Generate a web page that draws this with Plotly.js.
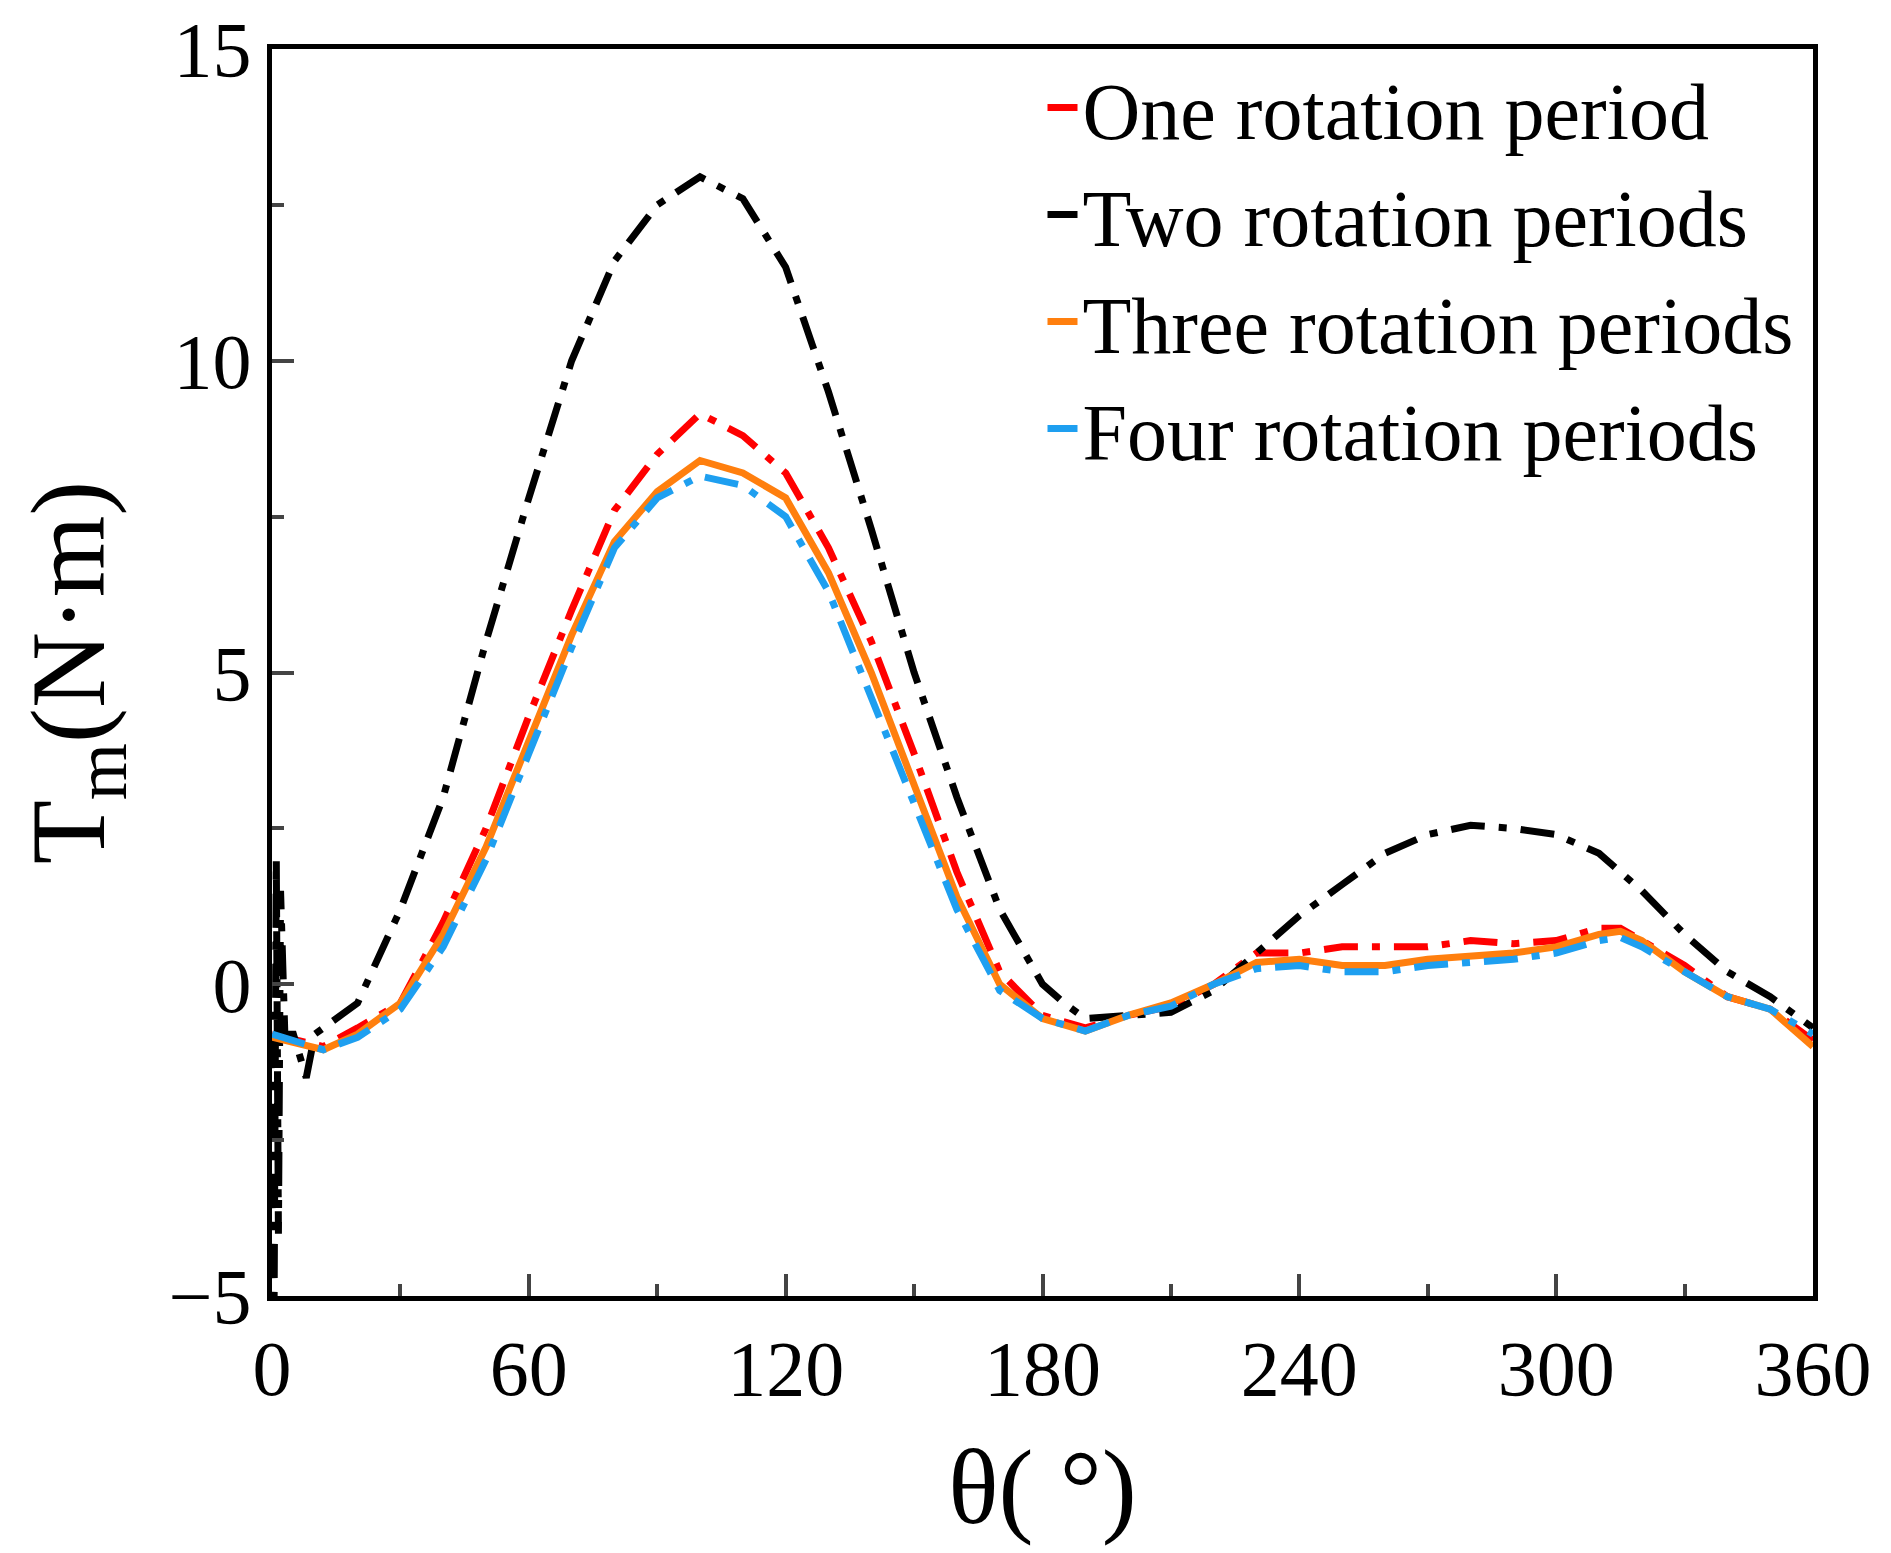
<!DOCTYPE html>
<html>
<head>
<meta charset="utf-8">
<script src="https://cdn.plot.ly/plotly-3.0.1.min.js"></script>
<style>body{margin:0;background:#fff}</style>
</head>
<body>
<div id="chart" style="width:1891px;height:1553px"></div>
<script>
// углы, градусы
var theta = [0,12,20,30,40,50,60,70,80,90,100,110,120,130,140,150,160,170,180,190,200,210,220,230,240,250,260,270,280,290,300,310,315,320,330,340,350,360]

var oneT = [-0.8,-1.0,-0.7,-0.3,1.0,2.5,4.3,6.0,7.6,8.5,9.15,8.8,8.2,7.0,5.5,3.7,1.8,0.2,-0.5,-0.7,-0.5,-0.35,0,0.5,0.5,0.6,0.6,0.6,0.7,0.65,0.7,0.9,0.9,0.7,0.3,-0.2,-0.4,-0.9]
var threeT = [-0.85,-1.05,-0.8,-0.3,0.8,2.2,3.9,5.6,7.1,7.9,8.4,8.2,7.8,6.6,5.0,3.2,1.4,0,-0.55,-0.75,-0.5,-0.3,0,0.35,0.4,0.3,0.3,0.4,0.45,0.5,0.6,0.8,0.85,0.7,0.2,-0.2,-0.4,-1.0]
var fourT = [-0.8,-1.05,-0.85,-0.4,0.6,2.0,3.7,5.4,7.0,7.8,8.15,8.0,7.5,6.3,4.6,2.9,1.2,-0.1,-0.55,-0.75,-0.5,-0.35,0,0.25,0.3,0.2,0.2,0.3,0.35,0.4,0.5,0.7,0.75,0.6,0.2,-0.2,-0.4,-0.8]

// две периода: отдельная сетка из-за всплеска в начале
var thetaTwo = [0,0.5,1,1.5,2,3,5,8,10,20,30,40,50,60,70,80,90,100,110,120,130,140,150,160,170,180,185,190,200,210,220,230,240,250,260,270,280,290,300,310,320,330,340,350,360]
var twoT = [-0.8,-5,2,-4,1.5,-0.8,-0.8,-1.5,-0.8,-0.3,1.2,3.0,5.5,7.8,10.0,11.6,12.5,12.95,12.6,11.5,9.5,7.3,5.0,3.0,1.2,0.0,-0.3,-0.55,-0.5,-0.45,-0.1,0.5,1.1,1.6,2.1,2.4,2.55,2.5,2.4,2.1,1.5,0.8,0.2,-0.2,-0.7]

var font = 'Liberation Serif, Times New Roman, serif'
var dd = '34px,14px,8px,14px'

var data = [
  {x: theta, y: oneT, mode: 'lines', name: 'One rotation period', line: {color: '#ff0000', width: 7, dash: dd}},
  {x: thetaTwo, y: twoT, mode: 'lines', name: 'Two rotation periods', line: {color: '#000000', width: 7, dash: dd}},
  {x: theta, y: threeT, mode: 'lines', name: 'Three rotation periods', line: {color: '#ff7f0e', width: 7}},
  {x: theta, y: fourT, mode: 'lines', name: 'Four rotation periods', line: {color: '#1e9ff0', width: 7, dash: dd}}
]

var layout = {
  width: 1891, height: 1553,
  margin: {l: 272, r: 78, t: 49, b: 257},
  paper_bgcolor: '#fff', plot_bgcolor: '#fff',
  font: {family: font, size: 78, color: '#000'},
  showlegend: true,
  legend: {x: 0.5, y: 1.0, xanchor: 'left', yanchor: 'top', bgcolor: 'rgba(0,0,0,0)', font: {size: 80}, tracegroupgap: 0},
  xaxis: {
    range: [0, 360], tickvals: [0,60,120,180,240,300,360],
    ticks: 'inside', ticklen: 22, tickwidth: 4,
    minor: {dtick: 30, ticks: 'inside', ticklen: 12, tickwidth: 4},
    showline: true, linewidth: 5, linecolor: '#000', mirror: true,
    showgrid: false, zeroline: false,
    title: {text: 'θ( °)', font: {size: 105}, standoff: 40}
  },
  yaxis: {
    range: [-5, 15], tickvals: [-5,0,5,10,15], ticktext: ['\u22125','0','5','10','15'],
    ticks: 'inside', ticklen: 22, tickwidth: 4,
    minor: {dtick: 2.5, ticks: 'inside', ticklen: 12, tickwidth: 4},
    showline: true, linewidth: 5, linecolor: '#000', mirror: true,
    showgrid: false, zeroline: false,
    title: {text: 'T<sub>m</sub>(N·m)', font: {size: 105}, standoff: 30}
  }
}

Plotly.newPlot('chart', data, layout, {displayModeBar: false})
</script>
</body>
</html>
